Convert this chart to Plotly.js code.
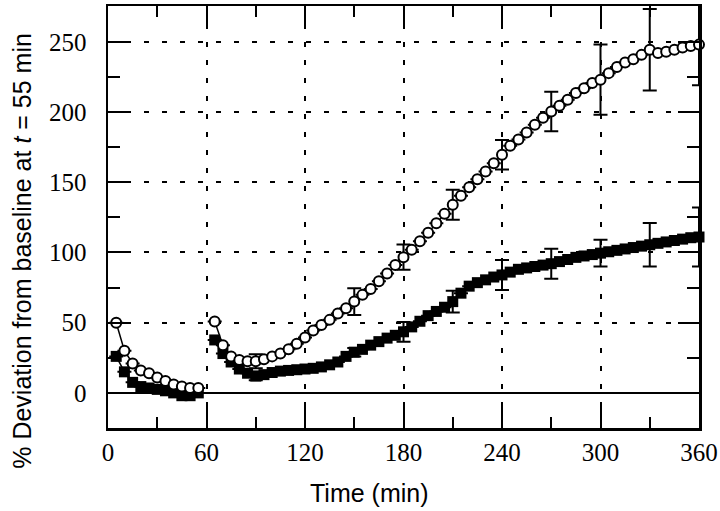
<!DOCTYPE html>
<html>
<head>
<meta charset="utf-8">
<script src="https://cdn.plot.ly/plotly-3.0.1.min.js"></script>
<style>
html,body{margin:0;padding:0;background:#fff;}
#chart{width:720px;height:511px;}
</style>
</head>
<body>
<div id="chart"></div>
<script>
// Time points (min); 60 is a gap between the two recording segments
const timeMin = [5,10,15,20,25,30,35,40,45,50,55,60,
  65,70,75,80,85,90,95,100,105,110,115,120,125,130,135,140,145,150,
  155,160,165,170,175,180,185,190,195,200,205,210,215,220,225,230,235,240,
  245,250,255,260,265,270,275,280,285,290,295,300,305,310,315,320,325,330,
  335,340,345,350,355,360];

// Open circles series (% deviation)
const openSeries = [50,30,21,16,14,11,8.5,6,4.5,3.5,3.5,null,
  50.8,34,26,23.5,22.5,22.5,24,26,28,31,35,39.5,44.5,48.4,52,56.5,60.3,65,
  69.8,74,79.5,85,91,96.6,102,108,114,120.8,127.5,134,140.3,146.5,152.2,157.6,163.6,169.5,
  176,180.5,185.5,191,196,200.4,204.4,208.7,213.5,217,220.6,223,227.7,232,235.3,237.6,240.7,244.3,
  242,243,244.3,246,247,248];

// Filled squares series (% deviation)
const filledSeries = [26,15,7.5,4.5,3.5,2.5,1.5,0,-2,-2,0,null,
  37.7,28,22,17,14,12,13,14.5,15.5,16,16.5,17,17.5,18.5,20,22,26,29,
  31,34,36.5,39,41,43.5,47,51,55,58,61,65,71,76,78.5,80.5,82.5,84,
  86,88,89,90,91,92,93.5,95,96.5,97.5,98.5,99.5,100.5,101.5,102.5,103.5,104.5,105.5,
  106.5,107.5,108.5,109.5,110.5,111];

// Error bars (only shown at these times)
const errTimes = [90,150,180,210,240,270,300,330,360];
const openErr = [5,9.5,9,10.7,10.5,14,25,29,29];
const filledErr = [3,3,7,7.7,10.7,10.7,9.5,15.5,21];

const xTickVals = [0,60,120,180,240,300,360];
const yTickVals = [0,50,100,150,200,250];

const xTitle = 'Time (min)';
const yTitle = '% Deviation from baseline at <i>t</i> = 55 min';

function expandErr(errVals){
  return timeMin.map(t => {
    const i = errTimes.indexOf(t);
    return i >= 0 ? errVals[i] : null;
  });
}

const traces = [
  {
    x: timeMin, y: filledSeries, type: 'scatter', mode: 'lines+markers',
    connectgaps: false, cliponaxis: false,
    line: {color: '#000', width: 1.5},
    marker: {symbol: 'square', size: 11, color: '#000', line: {color: '#000', width: 0}},
    error_y: {type: 'data', array: expandErr(filledErr), visible: true, color: '#000', thickness: 2, width: 7},
    showlegend: false, hoverinfo: 'skip'
  },
  {
    x: timeMin, y: openSeries, type: 'scatter', mode: 'lines+markers',
    connectgaps: false, cliponaxis: false,
    line: {color: '#000', width: 1.5},
    marker: {symbol: 'circle', size: 10, color: '#fff', line: {color: '#000', width: 2}},
    error_y: {type: 'data', array: expandErr(openErr), visible: true, color: '#000', thickness: 2, width: 7},
    showlegend: false, hoverinfo: 'skip'
  }
];

const tickFont = {family: 'Liberation Serif, Times New Roman, serif', size: 25, color: '#000'};
const titleFont = {family: 'Liberation Sans, Arial, sans-serif', size: 25, color: '#000'};

const layout = {
  width: 720, height: 511,
  margin: {l: 108, r: 21, t: 6, b: 83},
  paper_bgcolor: '#fff', plot_bgcolor: '#fff',
  showlegend: false,
  xaxis: {
    range: [0, 360],
    tickvals: xTickVals, ticktext: xTickVals.map(String),
    ticks: 'inside', ticklen: 21, tickwidth: 2, tickcolor: '#000',
    minor: {dtick: 30, ticks: 'inside', ticklen: 11, tickwidth: 2, tickcolor: '#000', showgrid: false},
    showline: true, linecolor: '#000', linewidth: 2.5, mirror: 'allticks',
    showgrid: true, gridcolor: '#000', gridwidth: 2, griddash: '5px,13px',
    zeroline: false,
    tickfont: tickFont,
    ticklabelstandoff: 0
  },
  yaxis: {
    range: [-25, 275.5],
    tickvals: yTickVals, ticktext: yTickVals.map(String),
    ticks: 'inside', ticklen: 21, tickwidth: 2, tickcolor: '#000',
    minor: {dtick: 25, ticks: 'inside', ticklen: 12, tickwidth: 2, tickcolor: '#000', showgrid: false},
    showline: true, linecolor: '#000', linewidth: 2.5, mirror: 'allticks',
    showgrid: true, gridcolor: '#000', gridwidth: 2, griddash: '5px,13px',
    zeroline: true, zerolinecolor: '#000', zerolinewidth: 2,
    tickfont: tickFont,
    ticklabelstandoff: 14
  },
  annotations: [
    {text: xTitle, xref: 'paper', yref: 'paper', x: 0.4433, y: -0.154, xanchor: 'center', yanchor: 'middle',
     showarrow: false, font: titleFont},
    {text: yTitle, xref: 'paper', yref: 'paper', x: -0.1455, y: 0.42, xanchor: 'center', yanchor: 'middle',
     textangle: -90, showarrow: false, font: titleFont}
  ]
};

Plotly.newPlot('chart', traces, layout, {staticPlot: true, displayModeBar: false});
</script>
</body>
</html>
